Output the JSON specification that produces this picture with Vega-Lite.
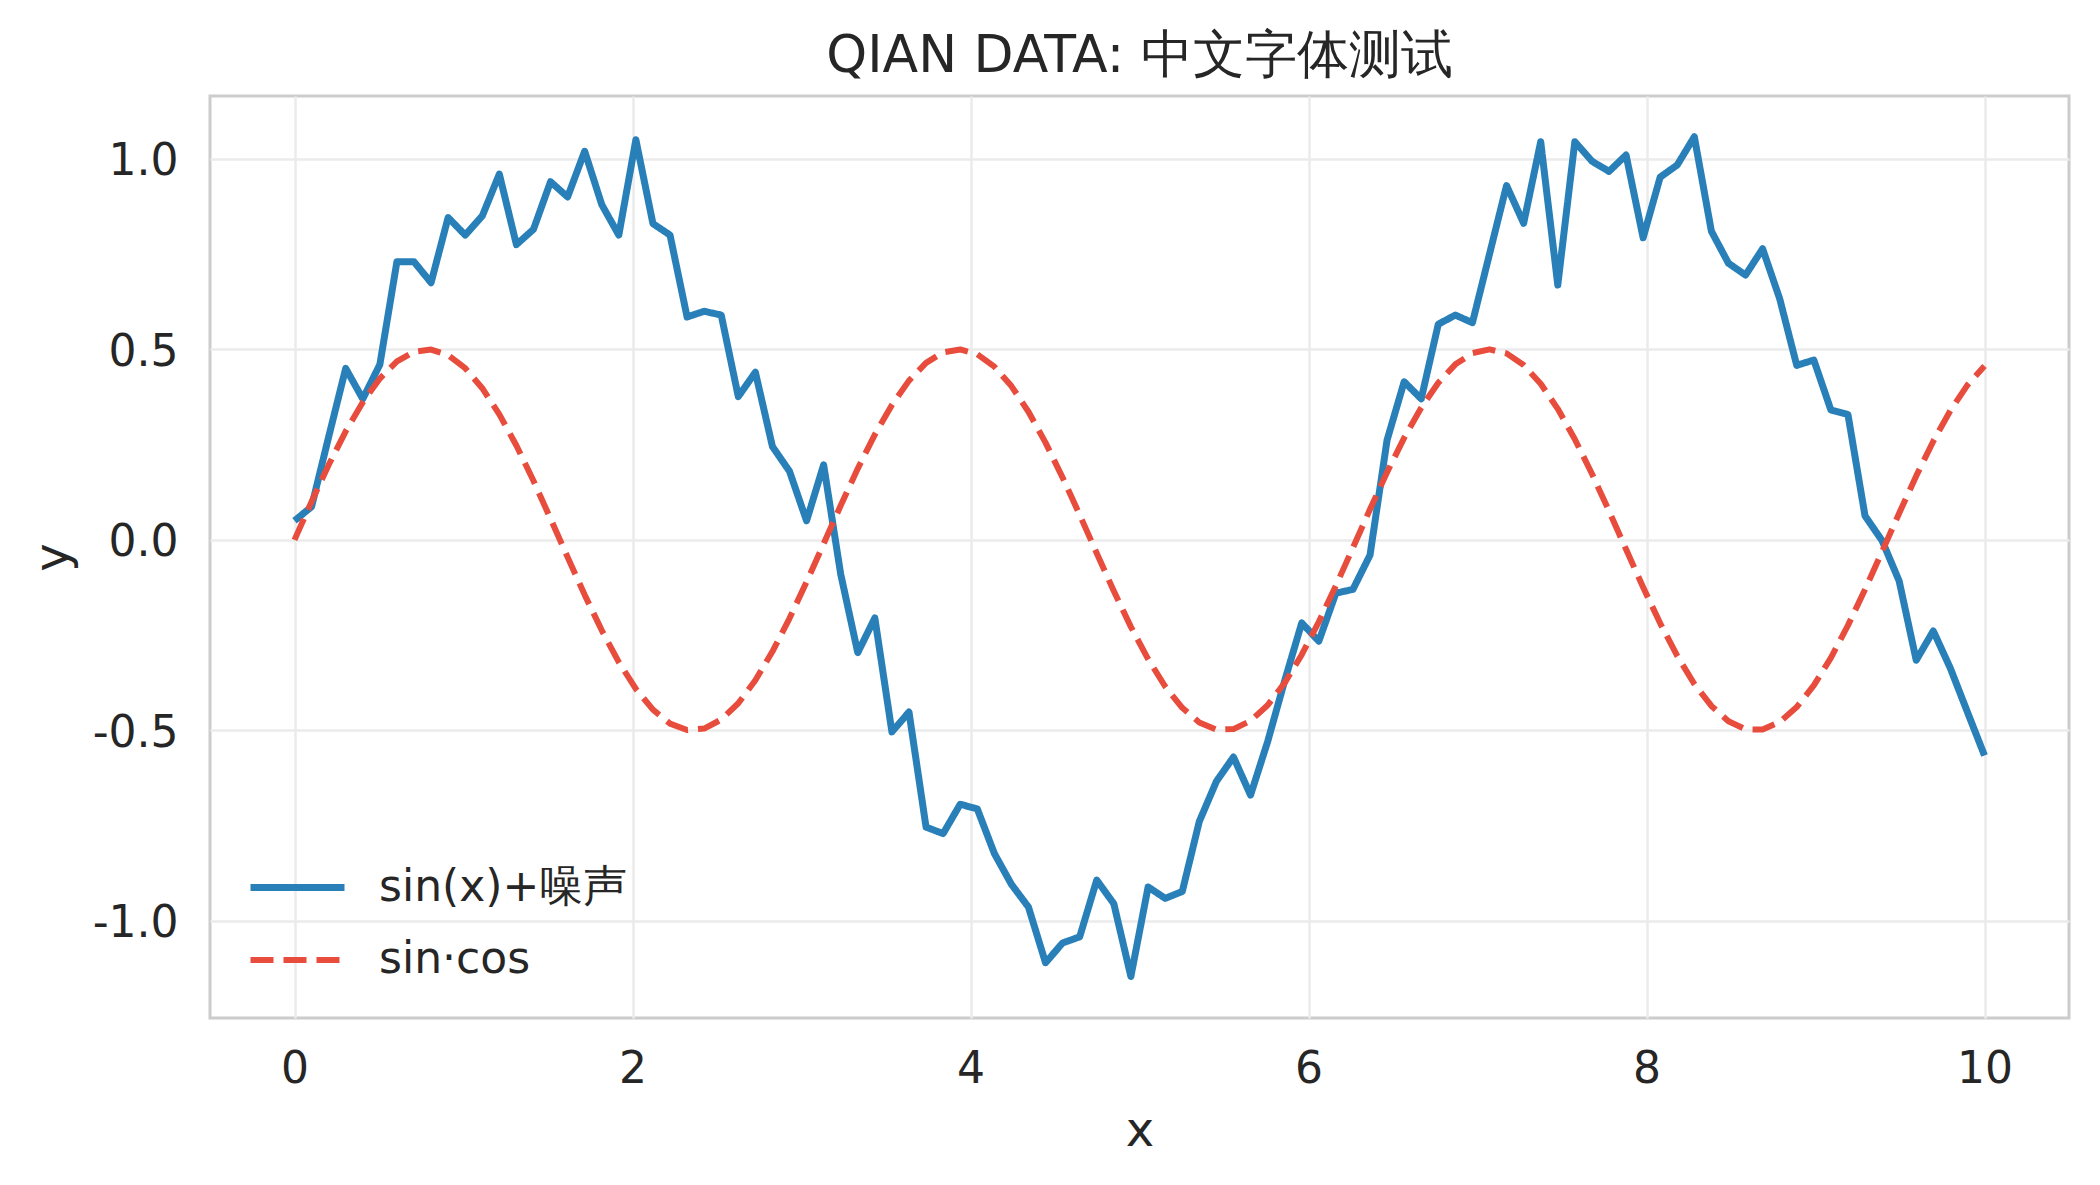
{
  "$schema": "https://vega.github.io/schema/vega-lite/v6.json",
  "width": 1859,
  "height": 922,
  "autosize": "none",
  "padding": {"left": 210, "top": 96, "right": 31, "bottom": 167},
  "background": "white",
  "title": {
    "text": "QIAN DATA: 中文字体测试",
    "font": "DejaVu Sans",
    "fontSize": 52,
    "fontWeight": "normal",
    "color": "#262626",
    "anchor": "middle",
    "baseline": "alphabetic",
    "offset": 15,
    "dy": 43
  },
  "config": {
    "font": "DejaVu Sans",
    "view": {"stroke": "#cccccc", "strokeWidth": 3},
    "axis": {
      "domain": false,
      "ticks": false,
      "grid": true,
      "gridColor": "#ebebeb",
      "gridWidth": 2.5,
      "labelFont": "DejaVu Sans",
      "labelFontSize": 44,
      "labelColor": "#262626",
      "titleFont": "DejaVu Sans",
      "titleFontSize": 48,
      "titleFontWeight": "normal",
      "titleColor": "#262626"
    },
    "legend": {
      "labelFont": "DejaVu Sans",
      "labelFontSize": 44,
      "labelColor": "#262626",
      "labelLimit": 1000
    }
  },
  "data": {
    "values": [
      {"x": 0, "y": 0.05, "s": "sin(x)+噪声"},
      {"x": 0.101, "y": 0.087, "s": "sin(x)+噪声"},
      {"x": 0.202, "y": 0.27, "s": "sin(x)+噪声"},
      {"x": 0.303, "y": 0.45, "s": "sin(x)+噪声"},
      {"x": 0.404, "y": 0.37, "s": "sin(x)+噪声"},
      {"x": 0.505, "y": 0.46, "s": "sin(x)+噪声"},
      {"x": 0.606, "y": 0.73, "s": "sin(x)+噪声"},
      {"x": 0.707, "y": 0.73, "s": "sin(x)+噪声"},
      {"x": 0.808, "y": 0.675, "s": "sin(x)+噪声"},
      {"x": 0.909, "y": 0.846, "s": "sin(x)+噪声"},
      {"x": 1.01, "y": 0.8, "s": "sin(x)+噪声"},
      {"x": 1.111, "y": 0.85, "s": "sin(x)+噪声"},
      {"x": 1.212, "y": 0.96, "s": "sin(x)+噪声"},
      {"x": 1.313, "y": 0.775, "s": "sin(x)+噪声"},
      {"x": 1.414, "y": 0.815, "s": "sin(x)+噪声"},
      {"x": 1.515, "y": 0.94, "s": "sin(x)+噪声"},
      {"x": 1.616, "y": 0.9, "s": "sin(x)+噪声"},
      {"x": 1.717, "y": 1.02, "s": "sin(x)+噪声"},
      {"x": 1.818, "y": 0.88, "s": "sin(x)+噪声"},
      {"x": 1.919, "y": 0.8, "s": "sin(x)+噪声"},
      {"x": 2.02, "y": 1.05, "s": "sin(x)+噪声"},
      {"x": 2.121, "y": 0.83, "s": "sin(x)+噪声"},
      {"x": 2.222, "y": 0.8, "s": "sin(x)+噪声"},
      {"x": 2.323, "y": 0.585, "s": "sin(x)+噪声"},
      {"x": 2.424, "y": 0.6, "s": "sin(x)+噪声"},
      {"x": 2.525, "y": 0.59, "s": "sin(x)+噪声"},
      {"x": 2.626, "y": 0.376, "s": "sin(x)+噪声"},
      {"x": 2.727, "y": 0.44, "s": "sin(x)+噪声"},
      {"x": 2.828, "y": 0.245, "s": "sin(x)+噪声"},
      {"x": 2.929, "y": 0.18, "s": "sin(x)+噪声"},
      {"x": 3.03, "y": 0.05, "s": "sin(x)+噪声"},
      {"x": 3.131, "y": 0.197, "s": "sin(x)+噪声"},
      {"x": 3.232, "y": -0.09, "s": "sin(x)+噪声"},
      {"x": 3.333, "y": -0.296, "s": "sin(x)+噪声"},
      {"x": 3.434, "y": -0.205, "s": "sin(x)+噪声"},
      {"x": 3.535, "y": -0.504, "s": "sin(x)+噪声"},
      {"x": 3.636, "y": -0.452, "s": "sin(x)+噪声"},
      {"x": 3.737, "y": -0.754, "s": "sin(x)+噪声"},
      {"x": 3.838, "y": -0.771, "s": "sin(x)+噪声"},
      {"x": 3.939, "y": -0.694, "s": "sin(x)+噪声"},
      {"x": 4.04, "y": -0.706, "s": "sin(x)+噪声"},
      {"x": 4.141, "y": -0.823, "s": "sin(x)+噪声"},
      {"x": 4.242, "y": -0.904, "s": "sin(x)+噪声"},
      {"x": 4.343, "y": -0.964, "s": "sin(x)+噪声"},
      {"x": 4.444, "y": -1.11, "s": "sin(x)+噪声"},
      {"x": 4.545, "y": -1.058, "s": "sin(x)+噪声"},
      {"x": 4.646, "y": -1.042, "s": "sin(x)+噪声"},
      {"x": 4.747, "y": -0.893, "s": "sin(x)+噪声"},
      {"x": 4.848, "y": -0.955, "s": "sin(x)+噪声"},
      {"x": 4.949, "y": -1.146, "s": "sin(x)+噪声"},
      {"x": 5.051, "y": -0.911, "s": "sin(x)+噪声"},
      {"x": 5.152, "y": -0.941, "s": "sin(x)+噪声"},
      {"x": 5.253, "y": -0.923, "s": "sin(x)+噪声"},
      {"x": 5.354, "y": -0.739, "s": "sin(x)+噪声"},
      {"x": 5.455, "y": -0.634, "s": "sin(x)+噪声"},
      {"x": 5.556, "y": -0.57, "s": "sin(x)+噪声"},
      {"x": 5.657, "y": -0.67, "s": "sin(x)+噪声"},
      {"x": 5.758, "y": -0.53, "s": "sin(x)+噪声"},
      {"x": 5.859, "y": -0.37, "s": "sin(x)+噪声"},
      {"x": 5.96, "y": -0.218, "s": "sin(x)+噪声"},
      {"x": 6.061, "y": -0.266, "s": "sin(x)+噪声"},
      {"x": 6.162, "y": -0.14, "s": "sin(x)+噪声"},
      {"x": 6.263, "y": -0.13, "s": "sin(x)+噪声"},
      {"x": 6.364, "y": -0.04, "s": "sin(x)+噪声"},
      {"x": 6.465, "y": 0.262, "s": "sin(x)+噪声"},
      {"x": 6.566, "y": 0.415, "s": "sin(x)+噪声"},
      {"x": 6.667, "y": 0.37, "s": "sin(x)+噪声"},
      {"x": 6.768, "y": 0.566, "s": "sin(x)+噪声"},
      {"x": 6.869, "y": 0.59, "s": "sin(x)+噪声"},
      {"x": 6.97, "y": 0.57, "s": "sin(x)+噪声"},
      {"x": 7.071, "y": 0.75, "s": "sin(x)+噪声"},
      {"x": 7.172, "y": 0.93, "s": "sin(x)+噪声"},
      {"x": 7.273, "y": 0.831, "s": "sin(x)+噪声"},
      {"x": 7.374, "y": 1.045, "s": "sin(x)+噪声"},
      {"x": 7.475, "y": 0.669, "s": "sin(x)+噪声"},
      {"x": 7.576, "y": 1.045, "s": "sin(x)+噪声"},
      {"x": 7.677, "y": 0.994, "s": "sin(x)+噪声"},
      {"x": 7.778, "y": 0.967, "s": "sin(x)+噪声"},
      {"x": 7.879, "y": 1.01, "s": "sin(x)+噪声"},
      {"x": 7.98, "y": 0.793, "s": "sin(x)+噪声"},
      {"x": 8.081, "y": 0.952, "s": "sin(x)+噪声"},
      {"x": 8.182, "y": 0.984, "s": "sin(x)+噪声"},
      {"x": 8.283, "y": 1.058, "s": "sin(x)+噪声"},
      {"x": 8.384, "y": 0.81, "s": "sin(x)+噪声"},
      {"x": 8.485, "y": 0.726, "s": "sin(x)+噪声"},
      {"x": 8.586, "y": 0.695, "s": "sin(x)+噪声"},
      {"x": 8.687, "y": 0.764, "s": "sin(x)+噪声"},
      {"x": 8.788, "y": 0.633, "s": "sin(x)+噪声"},
      {"x": 8.889, "y": 0.458, "s": "sin(x)+噪声"},
      {"x": 8.99, "y": 0.472, "s": "sin(x)+噪声"},
      {"x": 9.091, "y": 0.341, "s": "sin(x)+噪声"},
      {"x": 9.192, "y": 0.329, "s": "sin(x)+噪声"},
      {"x": 9.293, "y": 0.063, "s": "sin(x)+噪声"},
      {"x": 9.394, "y": -0.002, "s": "sin(x)+噪声"},
      {"x": 9.495, "y": -0.108, "s": "sin(x)+噪声"},
      {"x": 9.596, "y": -0.316, "s": "sin(x)+噪声"},
      {"x": 9.697, "y": -0.239, "s": "sin(x)+噪声"},
      {"x": 9.798, "y": -0.337, "s": "sin(x)+噪声"},
      {"x": 9.899, "y": -0.452, "s": "sin(x)+噪声"},
      {"x": 10, "y": -0.566, "s": "sin(x)+噪声"},
      {"x": 0, "y": 0, "s": "sin·cos"},
      {"x": 0.101, "y": 0.1003, "s": "sin·cos"},
      {"x": 0.202, "y": 0.1966, "s": "sin·cos"},
      {"x": 0.303, "y": 0.2848, "s": "sin·cos"},
      {"x": 0.404, "y": 0.3614, "s": "sin·cos"},
      {"x": 0.505, "y": 0.4234, "s": "sin·cos"},
      {"x": 0.606, "y": 0.4683, "s": "sin·cos"},
      {"x": 0.707, "y": 0.4939, "s": "sin·cos"},
      {"x": 0.808, "y": 0.4995, "s": "sin·cos"},
      {"x": 0.909, "y": 0.4849, "s": "sin·cos"},
      {"x": 1.01, "y": 0.4506, "s": "sin·cos"},
      {"x": 1.111, "y": 0.3981, "s": "sin·cos"},
      {"x": 1.212, "y": 0.3295, "s": "sin·cos"},
      {"x": 1.313, "y": 0.2475, "s": "sin·cos"},
      {"x": 1.414, "y": 0.155, "s": "sin·cos"},
      {"x": 1.515, "y": 0.0555, "s": "sin·cos"},
      {"x": 1.616, "y": -0.0453, "s": "sin·cos"},
      {"x": 1.717, "y": -0.1443, "s": "sin·cos"},
      {"x": 1.818, "y": -0.2374, "s": "sin·cos"},
      {"x": 1.919, "y": -0.3209, "s": "sin·cos"},
      {"x": 2.02, "y": -0.3913, "s": "sin·cos"},
      {"x": 2.121, "y": -0.4458, "s": "sin·cos"},
      {"x": 2.222, "y": -0.4822, "s": "sin·cos"},
      {"x": 2.323, "y": -0.499, "s": "sin·cos"},
      {"x": 2.424, "y": -0.4954, "s": "sin·cos"},
      {"x": 2.525, "y": -0.4717, "s": "sin·cos"},
      {"x": 2.626, "y": -0.4288, "s": "sin·cos"},
      {"x": 2.727, "y": -0.3685, "s": "sin·cos"},
      {"x": 2.828, "y": -0.2932, "s": "sin·cos"},
      {"x": 2.929, "y": -0.206, "s": "sin·cos"},
      {"x": 3.03, "y": -0.1104, "s": "sin·cos"},
      {"x": 3.131, "y": -0.0103, "s": "sin·cos"},
      {"x": 3.232, "y": 0.0902, "s": "sin·cos"},
      {"x": 3.333, "y": 0.1871, "s": "sin·cos"},
      {"x": 3.434, "y": 0.2763, "s": "sin·cos"},
      {"x": 3.535, "y": 0.3542, "s": "sin·cos"},
      {"x": 3.636, "y": 0.4179, "s": "sin·cos"},
      {"x": 3.737, "y": 0.4646, "s": "sin·cos"},
      {"x": 3.838, "y": 0.4922, "s": "sin·cos"},
      {"x": 3.939, "y": 0.4998, "s": "sin·cos"},
      {"x": 4.04, "y": 0.4873, "s": "sin·cos"},
      {"x": 4.141, "y": 0.4547, "s": "sin·cos"},
      {"x": 4.242, "y": 0.4037, "s": "sin·cos"},
      {"x": 4.343, "y": 0.3362, "s": "sin·cos"},
      {"x": 4.444, "y": 0.2552, "s": "sin·cos"},
      {"x": 4.545, "y": 0.1635, "s": "sin·cos"},
      {"x": 4.646, "y": 0.0657, "s": "sin·cos"},
      {"x": 4.747, "y": -0.0351, "s": "sin·cos"},
      {"x": 4.848, "y": -0.1344, "s": "sin·cos"},
      {"x": 4.949, "y": -0.2283, "s": "sin·cos"},
      {"x": 5.051, "y": -0.3129, "s": "sin·cos"},
      {"x": 5.152, "y": -0.3849, "s": "sin·cos"},
      {"x": 5.253, "y": -0.4409, "s": "sin·cos"},
      {"x": 5.354, "y": -0.4793, "s": "sin·cos"},
      {"x": 5.455, "y": -0.4981, "s": "sin·cos"},
      {"x": 5.556, "y": -0.4967, "s": "sin·cos"},
      {"x": 5.657, "y": -0.475, "s": "sin·cos"},
      {"x": 5.758, "y": -0.434, "s": "sin·cos"},
      {"x": 5.859, "y": -0.3753, "s": "sin·cos"},
      {"x": 5.96, "y": -0.3014, "s": "sin·cos"},
      {"x": 6.061, "y": -0.2153, "s": "sin·cos"},
      {"x": 6.162, "y": -0.1204, "s": "sin·cos"},
      {"x": 6.263, "y": -0.0206, "s": "sin·cos"},
      {"x": 6.364, "y": 0.0801, "s": "sin·cos"},
      {"x": 6.465, "y": 0.1775, "s": "sin·cos"},
      {"x": 6.566, "y": 0.2677, "s": "sin·cos"},
      {"x": 6.667, "y": 0.3469, "s": "sin·cos"},
      {"x": 6.768, "y": 0.4122, "s": "sin·cos"},
      {"x": 6.869, "y": 0.4606, "s": "sin·cos"},
      {"x": 6.97, "y": 0.4902, "s": "sin·cos"},
      {"x": 7.071, "y": 0.5, "s": "sin·cos"},
      {"x": 7.172, "y": 0.4894, "s": "sin·cos"},
      {"x": 7.273, "y": 0.4587, "s": "sin·cos"},
      {"x": 7.374, "y": 0.4097, "s": "sin·cos"},
      {"x": 7.475, "y": 0.3439, "s": "sin·cos"},
      {"x": 7.576, "y": 0.2641, "s": "sin·cos"},
      {"x": 7.677, "y": 0.1735, "s": "sin·cos"},
      {"x": 7.778, "y": 0.0759, "s": "sin·cos"},
      {"x": 7.879, "y": -0.0248, "s": "sin·cos"},
      {"x": 7.98, "y": -0.1245, "s": "sin·cos"},
      {"x": 8.081, "y": -0.2191, "s": "sin·cos"},
      {"x": 8.182, "y": -0.3048, "s": "sin·cos"},
      {"x": 8.283, "y": -0.3782, "s": "sin·cos"},
      {"x": 8.384, "y": -0.4359, "s": "sin·cos"},
      {"x": 8.485, "y": -0.4763, "s": "sin·cos"},
      {"x": 8.586, "y": -0.4972, "s": "sin·cos"},
      {"x": 8.687, "y": -0.4978, "s": "sin·cos"},
      {"x": 8.788, "y": -0.4781, "s": "sin·cos"},
      {"x": 8.889, "y": -0.4389, "s": "sin·cos"},
      {"x": 8.99, "y": -0.3821, "s": "sin·cos"},
      {"x": 9.091, "y": -0.3096, "s": "sin·cos"},
      {"x": 9.192, "y": -0.2245, "s": "sin·cos"},
      {"x": 9.293, "y": -0.1303, "s": "sin·cos"},
      {"x": 9.394, "y": -0.0308, "s": "sin·cos"},
      {"x": 9.495, "y": 0.0699, "s": "sin·cos"},
      {"x": 9.596, "y": 0.1678, "s": "sin·cos"},
      {"x": 9.697, "y": 0.2589, "s": "sin·cos"},
      {"x": 9.798, "y": 0.3395, "s": "sin·cos"},
      {"x": 9.899, "y": 0.4062, "s": "sin·cos"},
      {"x": 10, "y": 0.4565, "s": "sin·cos"}
    ]
  },
  "mark": {"type": "line", "strokeJoin": "round"},
  "encoding": {
    "x": {
      "field": "x",
      "type": "quantitative",
      "scale": {"domain": [-0.5, 10.5], "nice": false, "zero": false},
      "axis": {
        "title": "x",
        "values": [0, 2, 4, 6, 8, 10],
        "format": "d",
        "labelPadding": 29,
        "titleX": 929.5,
        "titleY": 113,
        "titleAlign": "center",
        "titleBaseline": "middle"
      }
    },
    "y": {
      "field": "y",
      "type": "quantitative",
      "scale": {"domain": [-1.255, 1.165], "nice": false, "zero": false},
      "axis": {
        "title": "y",
        "values": [-1, -0.5, 0, 0.5, 1],
        "labelExpr": "datum.value < 0 ? '-' + format(abs(datum.value), '.1f') : format(datum.value, '.1f')",
        "labelPadding": 32,
        "labelBaseline": "middle",
        "labelOffset": 3,
        "titleX": -157,
        "titleY": 461,
        "titleAngle": 270,
        "titleAlign": "center",
        "titleBaseline": "middle"
      }
    },
    "order": {"field": "x", "type": "quantitative"},
    "color": {
      "field": "s",
      "type": "nominal",
      "scale": {"domain": ["sin(x)+噪声", "sin·cos"], "range": ["#2980b9", "#e74c3c"]},
      "legend": {
        "title": null,
        "orient": "none",
        "legendX": 37,
        "legendY": 741,
        "padding": 0,
        "rowPadding": -7,
        "symbolType": "stroke",
        "symbolSize": 8836,
        "labelOffset": 31
      }
    },
    "strokeDash": {
      "field": "s",
      "type": "nominal",
      "scale": {"domain": ["sin(x)+噪声", "sin·cos"], "range": [[1, 0], [23, 10]]},
      "legend": {
        "title": null,
        "orient": "none",
        "legendX": 37,
        "legendY": 741,
        "padding": 0,
        "rowPadding": -7,
        "symbolType": "stroke",
        "symbolSize": 8836,
        "labelOffset": 31
      }
    },
    "strokeWidth": {
      "field": "s",
      "type": "nominal",
      "scale": {"domain": ["sin(x)+噪声", "sin·cos"], "range": [7, 6]},
      "legend": {
        "title": null,
        "orient": "none",
        "legendX": 37,
        "legendY": 741,
        "padding": 0,
        "rowPadding": -7,
        "symbolType": "stroke",
        "symbolSize": 8836,
        "labelOffset": 31
      }
    }
  }
}
